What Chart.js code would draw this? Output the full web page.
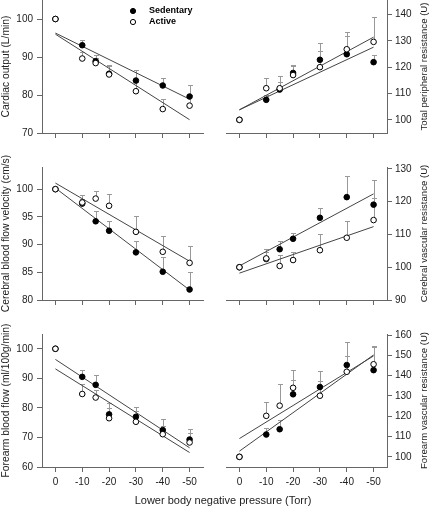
<!DOCTYPE html>
<html>
<head>
<meta charset="utf-8">
<script src="https://cdn.jsdelivr.net/npm/chart.js@4/dist/chart.umd.min.js"></script>
<style>
  html, body { margin: 0; padding: 0; background: #fff; overflow: hidden; }
  #fig { position: relative; width: 432px; height: 507px; }
  .panel { position: absolute; }
</style>
</head>
<body>
<div id="fig"></div>
<script>
// x values (Torr) and axis ticks
var pressure = [0, -10, -15, -20, -30, -40, -50];
var pressureTicks = [0, -10, -20, -30, -40, -50];
var fitEnds = [0, -50];

// Cardiac output (L/min)
var coSed = [100, 93.1, 88.9, 85.6, 83.8, 82.5, 79.6];
var coSedErr = [null, 94.4, 90.6, 88.0, 86.5, 84.5, 82.5];
var coAct = [100, 89.6, 88.4, 85.4, 81.0, 76.3, 77.2];
var coActErr = [null, 91.3, 89.8, 87.6, 83.5, 79.0, 80.0];
var coSedFit = [96.3, 78.9];
var coActFit = [96.0, 73.5];
var coTicks = [70, 80, 90, 100];

// Total peripheral resistance (U)
var tprSed = [100, 107.6, 111.5, 117.8, 122.8, 124.9, 121.9];
var tprSedErr = [null, 109.5, 114.3, 121.0, 126.1, 132.0, 124.5];
var tprAct = [100, 112.0, 112.0, 117.0, 120.0, 126.8, 129.6];
var tprActErr = [null, 115.8, 116.6, 120.5, 129.1, 133.5, 139.0];
var tprSedFit = [103.8, 127.6];
var tprActFit = [103.8, 131.4];
var tprTicks = [100, 110, 120, 130, 140];

// Cerebral blood flow velocity (cm/s)
var cbfvSed = [100, 97.4, 94.2, 92.5, 88.6, 85.1, 81.9];
var cbfvSedErr = [null, 98.3, 96.0, 94.2, 90.7, 87.7, 85.0];
var cbfvAct = [100, 97.6, 98.3, 97.0, 92.3, 88.7, 86.7];
var cbfvActErr = [null, 98.9, 99.6, 99.1, 95.1, 91.6, 89.8];
var cbfvSedFit = [100.2, 81.8];
var cbfvActFit = [101.1, 87.0];
var cbfvTicks = [80, 85, 90, 95, 100];

// Cerebral vascular resistance (U)
var cvrSed = [100, 102.5, 105.5, 108.7, 115.1, 121.4, 119.1];
var cvrSedErr = [null, 104.5, 108.0, 110.4, 118.2, 127.9, 126.7];
var cvrAct = [100, 102.7, 100.4, 102.2, 105.2, 109.0, 114.4];
var cvrActErr = [null, 105.5, 103.8, 104.8, 110.3, 114.1, 121.2];
var cvrSedFit = [100.4, 122.4];
var cvrActFit = [98.2, 112.4];
var cvrTicks = [90, 100, 110, 120, 130];

// Forearm blood flow (ml/100g/min)
var fbfSed = [100, 90.5, 87.8, 77.8, 77.0, 72.5, 69.3];
var fbfSedErr = [null, 92.7, 91.0, 81.6, 80.2, 76.1, 72.7];
var fbfAct = [100, 84.7, 83.5, 76.5, 75.3, 71.1, 68.3];
var fbfActErr = [null, 88.0, 86.0, 80.0, 79.0, 74.0, 71.5];
var fbfSedFit = [96.4, 66.5];
var fbfActFit = [93.2, 64.9];
var fbfTicks = [60, 70, 80, 90, 100];

// Forearm vascular resistance (U)
var fvrSed = [100, 111.0, 113.6, 130.8, 134.4, 145.2, 142.7];
var fvrSedErr = [null, 114.0, 118.0, 137.8, 142.4, 156.7, 154.2];
var fvrAct = [100, 120.2, 125.2, 134.0, 130.1, 141.9, 145.6];
var fvrActErr = [null, 127.1, 135.7, 143.0, 137.5, 149.8, 154.8];
var fvrSedFit = [102.8, 150.2];
var fvrActFit = [109.0, 149.7];
var fvrTicks = [100, 110, 120, 130, 140, 150, 160];

var FONT = 'Arial, "Liberation Sans", sans-serif';
var AXIS = '#666';
var AREA_H = 133;
var PAD_TOP = 20;

function pts(xs, ys) {
    return xs.map(function(x, i) { return { x: x, y: ys[i] }; });
}

// error bars (upper only), titles and legend
var decor = {
    id: 'decor',
    beforeDatasetsDraw: function(chart) {
        var ctx = chart.ctx, ys = chart.scales.y;
        ctx.save();
        ctx.strokeStyle = '#999';
        ctx.lineWidth = 1;
        chart.data.datasets.forEach(function(ds, i) {
            if (!ds.errTop) return;
            chart.getDatasetMeta(i).data.forEach(function(pt, j) {
                var v = ds.errTop[j];
                if (v == null) return;
                var top = Math.round(ys.getPixelForValue(v)) + 0.5;
                var x = Math.round(pt.x) + 0.5;
                ctx.beginPath();
                ctx.moveTo(x, pt.y);
                ctx.lineTo(x, top);
                ctx.moveTo(x - 2.5, top);
                ctx.lineTo(x + 2.5, top);
                ctx.stroke();
            });
        });
        ctx.restore();
    },
    afterDraw: function(chart, args, o) {
        var ctx = chart.ctx, area = chart.chartArea;
        ctx.save();
        ctx.fillStyle = '#222';
        ctx.textAlign = 'center';
        ctx.textBaseline = 'middle';
        ctx.font = o.yTitleSize + 'px ' + FONT;
        ctx.translate(o.yTitleX - o.ox, (area.top + area.bottom) / 2);
        ctx.rotate(-Math.PI / 2);
        ctx.fillText(o.yTitle, 0, 0);
        ctx.restore();

        if (o.xTitle) {
            ctx.save();
            ctx.fillStyle = '#222';
            ctx.textAlign = 'center';
            ctx.textBaseline = 'middle';
            ctx.font = '11px ' + FONT;
            ctx.fillText(o.xTitle, o.xTitleX - o.ox, o.xTitleY - o.oy);
            ctx.restore();
        }

        if (o.legend) {
            var items = [chart.data.datasets[1], chart.data.datasets[0]];
            ctx.save();
            items.forEach(function(ds, k) {
                var x = o.legendX - o.ox;
                var y = o.legendY - o.oy + k * 11;
                ctx.beginPath();
                ctx.arc(x, y, 2.6, 0, Math.PI * 2);
                ctx.fillStyle = ds.backgroundColor;
                ctx.fill();
                ctx.strokeStyle = '#000';
                ctx.lineWidth = 1;
                ctx.stroke();
                ctx.fillStyle = '#000';
                ctx.font = 'bold 9px ' + FONT;
                ctx.textAlign = 'left';
                ctx.textBaseline = 'middle';
                ctx.fillText(ds.label, x + 16, y);
            });
            ctx.restore();
        }
    }
};

function panel(p) {
    var isLeft = p.side === 'left';
    var W = p.wide ? 432 : 216;
    var xh = p.xLabels ? 24 : 8;
    var padBottom = p.xTitle ? 16 : (p.xLabels ? 4 : 14);
    var H = PAD_TOP + AREA_H + xh + padBottom;
    var ox = isLeft ? 0 : 216;
    var oy = p.top - PAD_TOP;

    var div = document.createElement('div');
    div.className = 'panel';
    div.style.left = ox + 'px';
    div.style.top = oy + 'px';
    div.style.width = W + 'px';
    div.style.height = H + 'px';
    var canvas = document.createElement('canvas');
    canvas.width = W;
    canvas.height = H;
    div.appendChild(canvas);
    document.getElementById('fig').appendChild(div);

    new Chart(canvas, {
        type: 'scatter',
        data: {
            datasets: [
                {
                    label: 'Active',
                    data: pts(pressure, p.act),
                    errTop: p.actErr,
                    backgroundColor: '#fff',
                    borderColor: '#000',
                    borderWidth: 1,
                    pointRadius: 2.8,
                    order: 0
                },
                {
                    label: 'Sedentary',
                    data: pts(pressure, p.sed),
                    errTop: p.sedErr,
                    backgroundColor: '#000',
                    borderColor: '#000',
                    borderWidth: 1,
                    pointRadius: 2.8,
                    order: 1
                },
                {
                    label: 'Sedentary fit',
                    data: pts(fitEnds, p.sedFit),
                    showLine: true,
                    pointRadius: 0,
                    borderColor: '#444',
                    borderWidth: 1,
                    order: 2
                },
                {
                    label: 'Active fit',
                    data: pts(fitEnds, p.actFit),
                    showLine: true,
                    pointRadius: 0,
                    borderColor: '#444',
                    borderWidth: 1,
                    order: 3
                }
            ]
        },
        options: {
            responsive: false,
            animation: false,
            events: [],
            layout: {
                padding: {
                    top: PAD_TOP,
                    bottom: padBottom,
                    left: isLeft ? 0 : 10,
                    right: isLeft ? W - 203 : 0
                }
            },
            plugins: {
                legend: { display: false },
                tooltip: { enabled: false },
                decor: {
                    ox: ox,
                    oy: oy,
                    yTitle: p.yTitle,
                    yTitleX: isLeft ? 6 : 424,
                    yTitleSize: isLeft ? 10.3 : 9.6,
                    xTitle: p.xTitle || '',
                    xTitleX: 223,
                    xTitleY: 501,
                    legend: !!p.legend,
                    legendX: 133,
                    legendY: 11
                }
            },
            scales: {
                x: {
                    type: 'linear',
                    min: -55,
                    max: 5,
                    reverse: true,
                    afterBuildTicks: function(s) {
                        s.ticks = pressureTicks.map(function(v) { return { value: v }; });
                    },
                    afterFit: function(s) { s.height = xh; },
                    grid: { drawOnChartArea: false, drawTicks: true, tickLength: 5, color: AXIS },
                    border: { display: true, color: AXIS, width: 1 },
                    ticks: {
                        display: !!p.xLabels,
                        padding: 4,
                        maxRotation: 0,
                        color: '#222',
                        font: { family: FONT, size: 10 }
                    }
                },
                y: {
                    type: 'linear',
                    position: isLeft ? 'left' : 'right',
                    min: p.yMin,
                    max: p.yMax,
                    afterBuildTicks: function(s) {
                        s.ticks = p.yTicks.map(function(v) { return { value: v }; });
                    },
                    afterFit: function(s) { s.width = isLeft ? 42 : 45; },
                    grid: { drawOnChartArea: false, drawTicks: true, tickLength: 5, color: AXIS },
                    border: { display: true, color: AXIS, width: 1 },
                    ticks: {
                        padding: isLeft ? 4 : 3,
                        color: '#222',
                        font: { family: FONT, size: 10 }
                    }
                }
            }
        },
        plugins: [decor]
    });
}

panel({ side: 'left', top: 0, yMin: 70, yMax: 105, yTicks: coTicks, yTitle: 'Cardiac output (L/min)',
    sed: coSed, sedErr: coSedErr, act: coAct, actErr: coActErr, sedFit: coSedFit, actFit: coActFit, legend: true });
panel({ side: 'right', top: 0, yMin: 95, yMax: 145.5, yTicks: tprTicks, yTitle: 'Total peripheral resistance (U)',
    sed: tprSed, sedErr: tprSedErr, act: tprAct, actErr: tprActErr, sedFit: tprSedFit, actFit: tprActFit });

panel({ side: 'left', top: 167, yMin: 80, yMax: 104, yTicks: cbfvTicks, yTitle: 'Cerebral blood flow velocity (cm/s)',
    sed: cbfvSed, sedErr: cbfvSedErr, act: cbfvAct, actErr: cbfvActErr, sedFit: cbfvSedFit, actFit: cbfvActFit });
panel({ side: 'right', top: 167, yMin: 90, yMax: 130.6, yTicks: cvrTicks, yTitle: 'Cerebral vascular resistance (U)',
    sed: cvrSed, sedErr: cvrSedErr, act: cvrAct, actErr: cvrActErr, sedFit: cvrSedFit, actFit: cvrActFit });

panel({ side: 'left', top: 334, wide: true, xLabels: true, yMin: 60, yMax: 105, yTicks: fbfTicks,
    yTitle: 'Forearm blood flow (ml/100g/min)', xTitle: 'Lower body negative pressure (Torr)',
    sed: fbfSed, sedErr: fbfSedErr, act: fbfAct, actErr: fbfActErr, sedFit: fbfSedFit, actFit: fbfActFit });
panel({ side: 'right', top: 334, xLabels: true, yMin: 95, yMax: 160.5, yTicks: fvrTicks, yTitle: 'Forearm vascular resistance (U)',
    sed: fvrSed, sedErr: fvrSedErr, act: fvrAct, actErr: fvrActErr, sedFit: fvrSedFit, actFit: fvrActFit });
</script>
</body>
</html>
